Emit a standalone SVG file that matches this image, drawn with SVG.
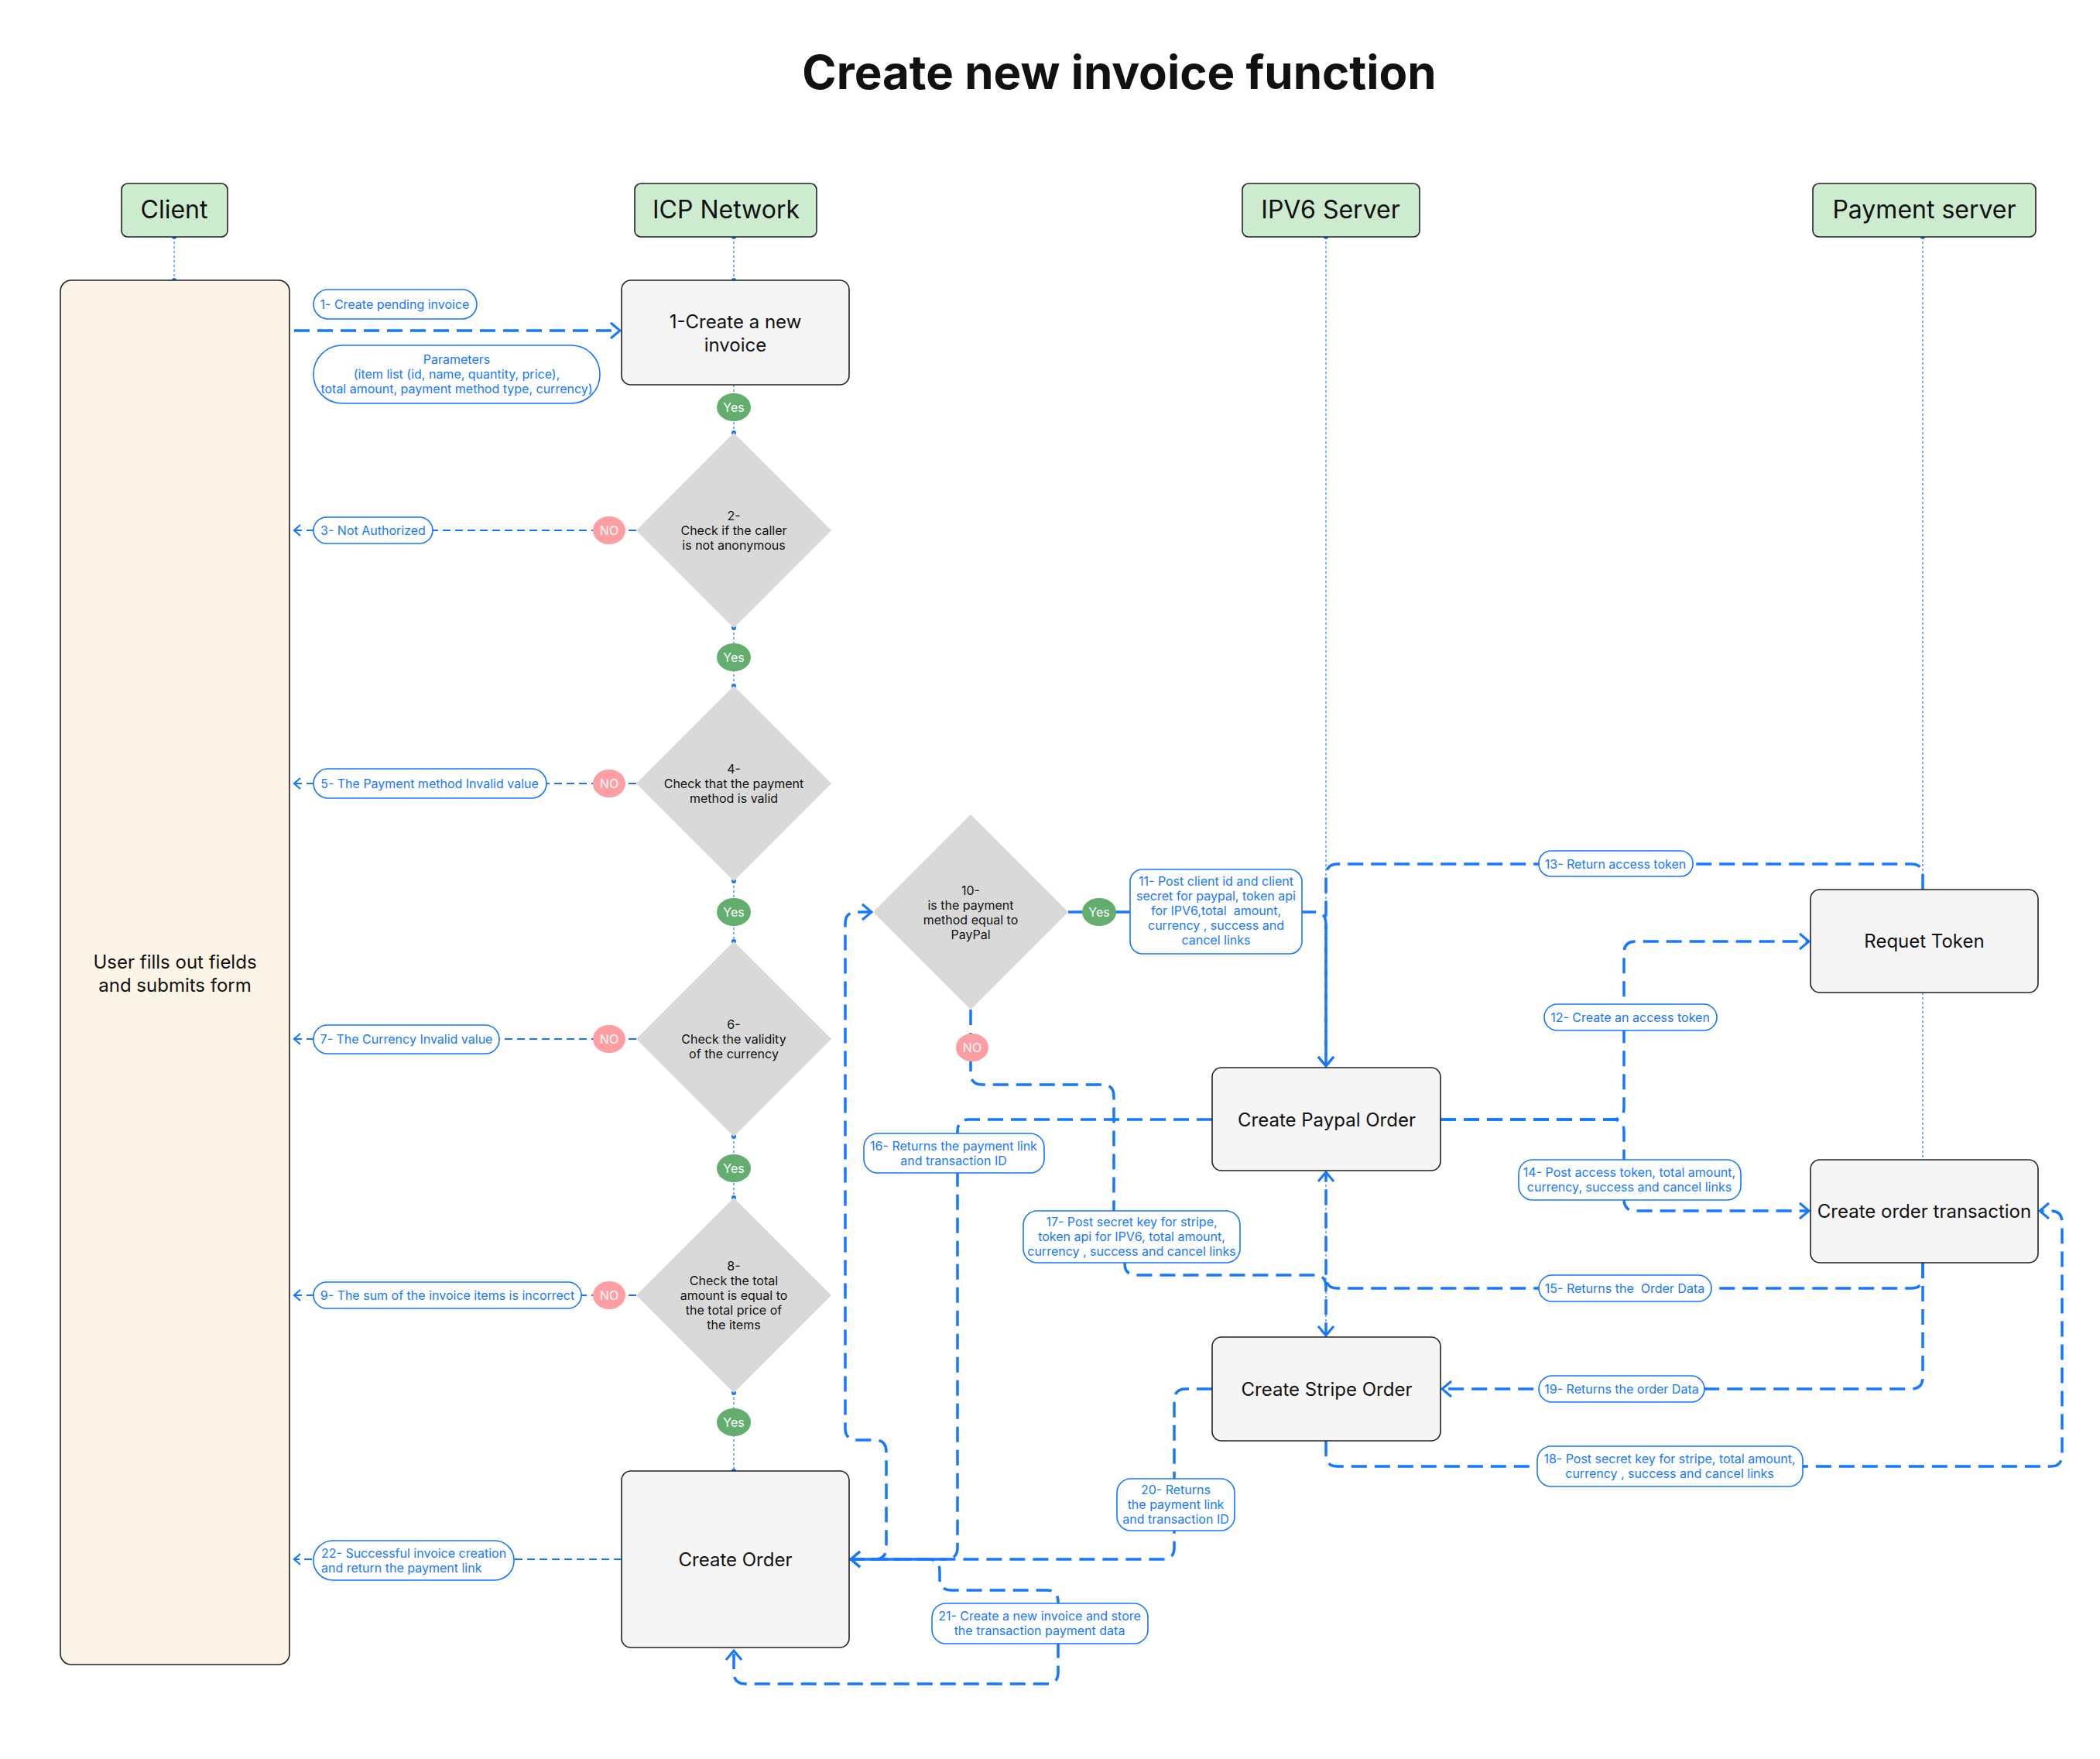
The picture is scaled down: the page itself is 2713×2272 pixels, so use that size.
<svg xmlns="http://www.w3.org/2000/svg" width="2713" height="2272" viewBox="0 0 2713 2272">
<style>
text{font-family:Inter,"Noto Sans","Liberation Sans",sans-serif;white-space:pre}
.title{font-size:60px;font-weight:700;fill:#111}
.hdr rect{fill:#cdebcf;stroke:#222;stroke-width:1.6}
.hdr text{font-size:32px;fill:#111;text-anchor:middle}
.box rect{fill:#f5f5f5;stroke:#222;stroke-width:1.6}
.box text{font-size:24px;fill:#111;text-anchor:middle}
.dia polygon{fill:#d9d9d9}
.dia text{font-size:16px;fill:#111;text-anchor:middle}
.yes ellipse{fill:#63ad6e}
.no ellipse{fill:#ff9ea2}
.yes text,.no text{font-size:16px;fill:#fff;text-anchor:middle}
.lbl rect{fill:#fff;stroke:#1677ff;stroke-width:1.6}
.lbl text{font-size:16px;fill:#1677ff;text-anchor:middle}
.c{fill:none;stroke:#1677ff;stroke-width:3.5;stroke-dasharray:20 10}
.t{fill:none;stroke:#1677ff;stroke-width:2.2;stroke-dasharray:10 6}
.d{fill:none;stroke:#4d9bff;stroke-width:1.5;stroke-dasharray:3 3}
.dot{fill:#1677ff}
</style>
<defs>
<marker id="ah" viewBox="-15 -13 17 26" markerWidth="17" markerHeight="26" markerUnits="userSpaceOnUse" refX="0" refY="0" orient="auto"><path d="M-12,-10 L0,0 L-12,10" fill="none" stroke="#1677ff" stroke-width="3"/></marker>
<marker id="as" viewBox="-11 -9 13 18" markerWidth="13" markerHeight="18" markerUnits="userSpaceOnUse" refX="0" refY="0" orient="auto"><path d="M-8,-7 L0,0 L-8,7" fill="none" stroke="#1677ff" stroke-width="2.2"/></marker>
</defs>
<rect width="2713" height="2272" fill="#fff"/>
<text class="title" x="1446" y="115" text-anchor="middle">Create new invoice function</text>

<g id="connectors">
<path class="d" d="M225 306V362M948 306V362M948 497V559M948 811V886M948 1138V1216M948 1468V1547M948 1799V1900M1713 306V1379M1713 1512V1727M2484 306V1149M2484 1282V1498"/>
<g class="dot">
<circle cx="225" cy="306" r="3"/><circle cx="225" cy="362" r="3"/><circle cx="948" cy="306" r="3"/><circle cx="948" cy="362" r="3"/>
<circle cx="948" cy="559" r="3"/><circle cx="948" cy="811" r="3"/><circle cx="948" cy="886" r="3"/><circle cx="948" cy="1138" r="3"/>
<circle cx="948" cy="1216" r="3"/><circle cx="948" cy="1468" r="3"/><circle cx="948" cy="1547" r="3"/><circle cx="948" cy="1799" r="3"/><circle cx="948" cy="1900" r="3"/>
<circle cx="1713" cy="306" r="3"/><circle cx="2484" cy="306" r="3"/>
</g>
<path class="c" d="M380 427H801" marker-end="url(#ah)"/>
<path class="t" d="M822 685H380" marker-end="url(#as)"/>
<path class="t" d="M822 1012H380" marker-end="url(#as)"/>
<path class="t" d="M822 1342H380" marker-end="url(#as)"/>
<path class="t" d="M822 1673H380" marker-end="url(#as)"/>
<path class="t" d="M803 2014H380" marker-end="url(#as)"/>
<path class="c" d="M1380 1178H1698Q1713 1178 1713 1193V1377" marker-end="url(#ah)"/>
<path class="c" d="M2484 1149V1131Q2484 1116 2469 1116H1728Q1713 1116 1713 1131V1377" marker-end="url(#ah)"/>
<path class="c" d="M1861 1446H2083Q2098 1446 2098 1431V1231Q2098 1216 2113 1216H2337" marker-end="url(#ah)"/>
<path class="c" d="M1861 1446H2083Q2098 1446 2098 1461V1549Q2098 1564 2113 1564H2337" marker-end="url(#ah)"/>
<path class="c" d="M2484 1631V1649Q2484 1664 2469 1664H1728Q1713 1664 1713 1649V1514" marker-end="url(#ah)"/>
<path class="c" d="M2484 1631V1779Q2484 1794 2469 1794H1863" marker-end="url(#ah)"/>
<path class="c" d="M1713 1861V1879Q1713 1894 1728 1894H2649Q2664 1894 2664 1879V1579Q2664 1564 2649 1564H2635" marker-end="url(#ah)"/>
<path class="c" d="M1254 1304V1386Q1254 1401 1269 1401H1424Q1439 1401 1439 1416V1598H1453V1632Q1453 1647 1468 1647H1698Q1713 1647 1713 1662V1725" marker-end="url(#ah)"/>
<path class="c" d="M1566 1446H1252Q1237 1446 1237 1461V1999Q1237 2014 1222 2014H1099" marker-end="url(#ah)"/>
<path class="c" d="M1566 1794H1532Q1517 1794 1517 1809V1999Q1517 2014 1502 2014H1099" marker-end="url(#ah)"/>
<path class="c" d="M1097 2014H1130Q1145 2014 1145 1999V1875Q1145 1860 1130 1860H1107Q1092 1860 1092 1845V1193Q1092 1178 1107 1178H1126" marker-end="url(#ah)"/>
<path class="c" d="M1097 2014H1199Q1214 2014 1214 2029V2039Q1214 2054 1229 2054H1352Q1367 2054 1367 2069V2160Q1367 2175 1352 2175H963Q948 2175 948 2160V2132" marker-end="url(#ah)"/>
</g>

<g id="h-client" class="hdr"><rect x="157" y="237" width="137" height="69" rx="8"/><text x="225" y="282">Client</text></g>
<g id="h-icp" class="hdr"><rect x="820" y="237" width="235" height="69" rx="8"/><text x="938" y="282">ICP Network</text></g>
<g id="h-ipv6" class="hdr"><rect x="1605" y="237" width="229" height="69" rx="8"/><text x="1719" y="282">IPV6 Server</text></g>
<g id="h-pay" class="hdr"><rect x="2342" y="237" width="288" height="69" rx="8"/><text x="2486" y="282">Payment server</text></g>

<g id="client" class="box"><rect x="78" y="362" width="296" height="1788" rx="14" style="fill:#fcf4e7"/><text x="226" y="1251">User fills out fields</text><text x="226" y="1281">and submits form</text></g>
<g id="new-invoice" class="box"><rect x="803" y="362" width="294" height="135" rx="12"/><text x="950" y="424">1-Create a new</text><text x="950" y="454">invoice</text></g>
<g id="create-order" class="box"><rect x="803" y="1900" width="294" height="228" rx="12"/><text x="950" y="2023">Create Order</text></g>
<g id="paypal-order" class="box"><rect x="1566" y="1379" width="295" height="133" rx="12"/><text x="1714" y="1455">Create Paypal Order</text></g>
<g id="stripe-order" class="box"><rect x="1566" y="1727" width="295" height="134" rx="12"/><text x="1714" y="1803">Create Stripe Order</text></g>
<g id="request-token" class="box"><rect x="2339" y="1149" width="294" height="133" rx="12"/><text x="2486" y="1224">Requet Token</text></g>
<g id="order-transaction" class="box"><rect x="2339" y="1498" width="294" height="133" rx="12"/><text x="2486" y="1573">Create order transaction</text></g>

<g id="d2" class="dia"><polygon points="948,559 1074,685 948,811 822,685"/><text x="948" y="672">2-</text><text x="948" y="691">Check if the caller</text><text x="948" y="710">is not anonymous</text></g>
<g id="d4" class="dia"><polygon points="948,886 1074,1012 948,1138 822,1012"/><text x="948" y="999">4-</text><text x="948" y="1018">Check that the payment</text><text x="948" y="1037">method is valid</text></g>
<g id="d6" class="dia"><polygon points="948,1216 1074,1342 948,1468 822,1342"/><text x="948" y="1329">6-</text><text x="948" y="1348">Check the validity</text><text x="948" y="1367">of the currency</text></g>
<g id="d8" class="dia"><polygon points="948,1547 1074,1673 948,1799 822,1673"/><text x="948" y="1641">8-</text><text x="948" y="1660">Check the total</text><text x="948" y="1679">amount is equal to</text><text x="948" y="1698">the total price of</text><text x="948" y="1717">the items</text></g>
<g id="d10" class="dia"><polygon points="1254,1052 1380,1178 1254,1304 1128,1178"/><text x="1254" y="1156">10-</text><text x="1254" y="1175">is the payment</text><text x="1254" y="1194">method equal to</text><text x="1254" y="1213">PayPal</text></g>

<g id="yes1" class="yes"><ellipse cx="948" cy="526" rx="22" ry="18"/><text x="948" y="532">Yes</text></g>
<g id="yes2" class="yes"><ellipse cx="948" cy="849" rx="22" ry="18"/><text x="948" y="855">Yes</text></g>
<g id="yes3" class="yes"><ellipse cx="948" cy="1178" rx="22" ry="18"/><text x="948" y="1184">Yes</text></g>
<g id="yes4" class="yes"><ellipse cx="948" cy="1509" rx="22" ry="18"/><text x="948" y="1515">Yes</text></g>
<g id="yes5" class="yes"><ellipse cx="948" cy="1837" rx="22" ry="18"/><text x="948" y="1843">Yes</text></g>
<g id="yes10" class="yes"><ellipse cx="1420" cy="1178" rx="22" ry="18"/><text x="1420" y="1184">Yes</text></g>
<g id="no2" class="no"><ellipse cx="787" cy="685" rx="21" ry="18"/><text x="787" y="691">NO</text></g>
<g id="no4" class="no"><ellipse cx="787" cy="1012" rx="21" ry="18"/><text x="787" y="1018">NO</text></g>
<g id="no6" class="no"><ellipse cx="787" cy="1342" rx="21" ry="18"/><text x="787" y="1348">NO</text></g>
<g id="no8" class="no"><ellipse cx="787" cy="1673" rx="21" ry="18"/><text x="787" y="1679">NO</text></g>
<g id="no10" class="no"><ellipse cx="1256" cy="1353" rx="21" ry="18"/><text x="1256" y="1359">NO</text></g>

<g id="l1" class="lbl"><rect x="405" y="374" width="211" height="38" rx="19"/><text x="510" y="399">1- Create pending invoice</text></g>
<g id="lparams" class="lbl"><rect x="405" y="446" width="370" height="75" rx="37"/><text x="590" y="470">Parameters</text><text x="590" y="489">(item list (id, name, quantity, price),</text><text x="590" y="508">total amount, payment method type, currency)</text></g>
<g id="l3" class="lbl"><rect x="405" y="668" width="154" height="34" rx="17"/><text x="482" y="691">3- Not Authorized</text></g>
<g id="l5" class="lbl"><rect x="405" y="993" width="301" height="38" rx="19"/><text x="555" y="1018">5- The Payment method Invalid value</text></g>
<g id="l7" class="lbl"><rect x="405" y="1324" width="240" height="37" rx="18"/><text x="525" y="1348">7- The Currency Invalid value</text></g>
<g id="l9" class="lbl"><rect x="405" y="1656" width="346" height="34" rx="17"/><text x="578" y="1679">9- The sum of the invoice items is incorrect</text></g>
<g id="l22" class="lbl"><rect x="405" y="1990" width="259" height="51" rx="25"/><text x="415" y="2012" style="text-anchor:start">22- Successful invoice creation</text><text x="415" y="2031" style="text-anchor:start">and return the payment link</text></g>
<g id="l11" class="lbl"><rect x="1460" y="1123" width="222" height="109" rx="16"/><text x="1571" y="1144">11- Post client id and client</text><text x="1571" y="1163">secret for paypal, token api</text><text x="1571" y="1182">for IPV6,total  amount,</text><text x="1571" y="1201">currency , success and</text><text x="1571" y="1220">cancel links</text></g>
<g id="l12" class="lbl"><rect x="1995" y="1297" width="223" height="34" rx="17"/><text x="2106" y="1320">12- Create an access token</text></g>
<g id="l13" class="lbl"><rect x="1988" y="1099" width="199" height="33" rx="16"/><text x="2087" y="1122">13- Return access token</text></g>
<g id="l14" class="lbl"><rect x="1962" y="1498" width="287" height="52" rx="18"/><text x="2105" y="1520">14- Post access token, total amount,</text><text x="2105" y="1539">currency, success and cancel links</text></g>
<g id="l15" class="lbl"><rect x="1988" y="1647" width="223" height="34" rx="17"/><text x="2099" y="1670">15- Returns the  Order Data</text></g>
<g id="l16" class="lbl"><rect x="1116" y="1464" width="233" height="51" rx="18"/><text x="1232" y="1486">16- Returns the payment link</text><text x="1232" y="1505">and transaction ID</text></g>
<g id="l17" class="lbl"><rect x="1322" y="1564" width="280" height="67" rx="18"/><text x="1462" y="1584">17- Post secret key for stripe,</text><text x="1462" y="1603">token api for IPV6, total amount,</text><text x="1462" y="1622">currency , success and cancel links</text></g>
<g id="l18" class="lbl"><rect x="1986" y="1868" width="343" height="52" rx="18"/><text x="2157" y="1890">18- Post secret key for stripe, total amount,</text><text x="2157" y="1909">currency , success and cancel links</text></g>
<g id="l19" class="lbl"><rect x="1988" y="1777" width="214" height="34" rx="17"/><text x="2095" y="1800">19- Returns the order Data</text></g>
<g id="l20" class="lbl"><rect x="1443" y="1910" width="152" height="67" rx="18"/><text x="1519" y="1930">20- Returns</text><text x="1519" y="1949">the payment link</text><text x="1519" y="1968">and transaction ID</text></g>
<g id="l21" class="lbl"><rect x="1204" y="2071" width="279" height="52" rx="18"/><text x="1343" y="2093">21- Create a new invoice and store</text><text x="1343" y="2112">the transaction payment data</text></g>
</svg>
